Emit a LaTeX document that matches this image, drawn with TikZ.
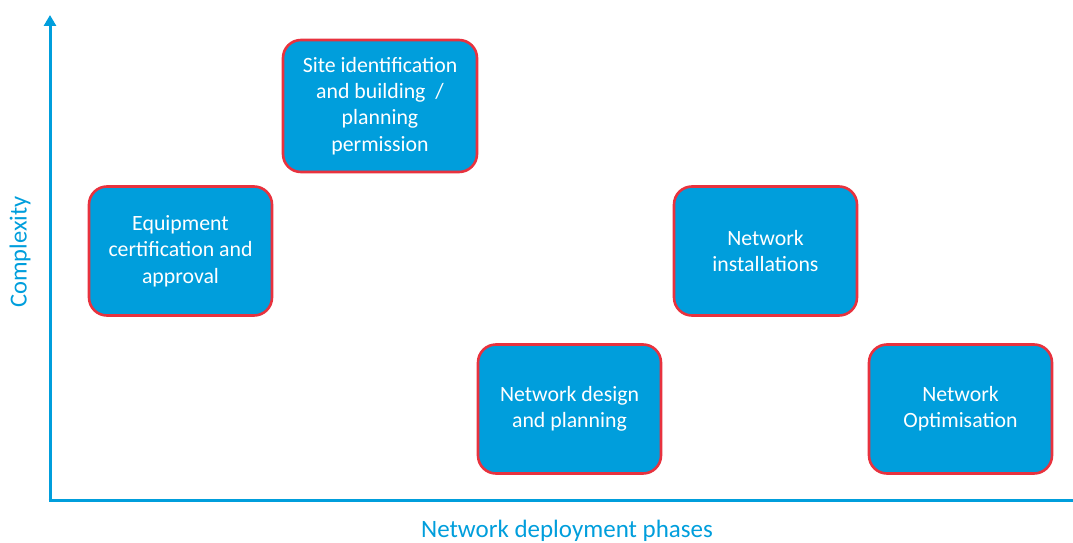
\documentclass[tikz,border=0pt]{standalone}
\usepackage{fontspec}
\setmainfont{Carlito}
\usetikzlibrary{positioning,arrows.meta}
\definecolor{phaseblue}{RGB}{0,158,220}
\definecolor{phasered}{RGB}{232,50,62}
\begin{document}
\begin{tikzpicture}[x=1pt,y=-1pt,
  phase/.style={draw=phasered,line width=2.6pt,fill=phaseblue,rounded corners=18pt,
    text=white,align=center,font=\fontsize{21.8}{26.3}\selectfont,
    minimum width=183pt,minimum height=129pt,inner sep=0pt},
  axis/.style={draw=phaseblue,line width=3pt}]

\useasboundingbox (0,0) rectangle (1073,543);

\coordinate (origin) at (50,500);
\coordinate (ytop) at (50,15);
\coordinate (xend) at (1073,500);

\draw[axis,-{Triangle[length=11pt,width=12pt]}] (origin) -- (ytop);
\draw[axis] ([xshift=-1.5pt]origin) -- (xend);

\node[phase,minimum width=194pt,minimum height=132pt] (site) at (380,106)
  {Site identification\\and building \ /\\planning\\permission};
\node[phase] (equip) at (180.5,251) {Equipment\\certification and\\approval};
\node[phase] (install) at (765.5,251) {Network\\installations};
\node[phase] (design) at (569.5,409) {Network design\\and planning};
\node[phase] (optim) at (960.5,409) {Network\\Optimisation};

\node[text=phaseblue,font=\fontsize{24.5}{28}\selectfont,rotate=90] (ylabel) at (20,252) {Complexity};
\node[text=phaseblue,font=\fontsize{25}{28}\selectfont] (xlabel) at (567,531) {Network deployment phases};

\end{tikzpicture}
\end{document}
